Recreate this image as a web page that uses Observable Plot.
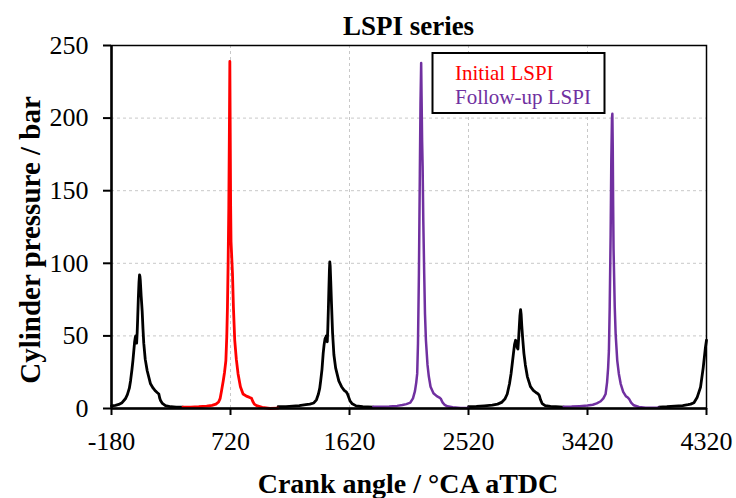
<!DOCTYPE html>
<html>
<head>
<meta charset="utf-8">
<script src="https://cdn.jsdelivr.net/npm/d3@7"></script>
<script src="https://cdn.jsdelivr.net/npm/@observablehq/plot@0.6"></script>
<style>
  html, body { margin: 0; padding: 0; background: #fff; }
  #chart { width: 736px; height: 498px; }
</style>
</head>
<body>
<div id="chart"></div>
<script>
// ---- Data (crank angle in °CA aTDC, pressure in bar) ----
const xTicks = [-180, 720, 1620, 2520, 3420, 4320];
const yTicks = [0, 50, 100, 150, 200, 250];

const black1Angle = [-180,-150,-125,-100,-75,-60,-45,-36,-25,-18,-11,-5,0,3,6,10,14,18,23,28,32,35,38,44,52,58,64,75,90,115,135,153,165,178,185,191,205,228,270,310,360];
const black1P     = [1.8,2.2,2.8,4,6.7,9.5,14,19,27,33,40,46,49,50,47,45,52,62,76,87,92,91,88,78,67,55,45,34,26,17,14,12,11,10,7,5.5,3.5,2,1.2,1,1];

const redAngle = [360,420,480,540,580,610,630,642,652,665,675,685,692,697,702,707,711,715,718,721,724,728,735,742,752,764,777,795,815,840,860,879,888,900,917,960,1018,1080];
const redP     = [1,1,1.2,1.6,2.2,3,4.5,7,12,19,25,33,50,70,100,138,185,239,190,140,115,107,93,70,47,34,24,15,10,8.5,7.8,7,5,3,2,0.8,0,0.3];

const black2Angle = [1080,1140,1190,1240,1290,1320,1350,1370,1385,1395,1402,1412,1421,1428,1435,1440,1444,1448,1452,1456,1460,1464,1468,1471,1474,1478,1484,1492,1502,1515,1539,1560,1580,1595,1605,1615,1625,1641,1670,1720,1800];
const black2P     = [1.2,1.3,1.6,2,2.6,3,3.8,6,10,14,19,27,38,44,48,49,50,47,46,55,68,82,95,101,98,88,72,52,37,28,19,15,12.5,11.5,10,7.5,5,3.2,1.8,1.2,1];

const purple1Angle = [1800,1860,1920,1980,2020,2050,2080,2100,2115,2125,2132,2138,2145,2152,2157,2162,2165,2169,2173,2178,2185,2191,2198,2210,2220,2233,2255,2280,2300,2310,2325,2340,2360,2400,2460,2520];
const purple1P     = [1.2,1.2,1.4,1.8,2.4,3,4,7,12,18,24,45,93,162,210,238,215,185,167,130,93,65,47,30,22,15,10.5,8.5,7.5,6.8,4,2.5,1.5,0.8,0.4,0.3];

const black3Angle = [2520,2580,2640,2700,2740,2770,2795,2813,2830,2842,2851,2860,2868,2876,2882,2888,2894,2899,2904,2909,2914,2918,2923,2930,2939,2950,2965,2989,3010,3030,3045,3055,3065,3077,3100,3140,3180,3240];
const black3P     = [1.2,1.4,1.8,2.3,3,4.2,6.5,10,17,24,31,38,44,47,46,42,41,48,56,64,68,65,57,48,38,30,22,15,12.5,11,10.2,9,6,3.4,2,1.4,1.2,1];

const purple2Angle = [3240,3300,3360,3420,3460,3490,3520,3540,3557,3568,3576,3582,3588,3595,3600,3605,3608,3611,3614,3617,3620,3626,3633,3645,3657,3671,3690,3710,3725,3734,3750,3770,3809,3860,3920,3960];
const purple2P     = [1.2,1.3,1.6,2,2.6,3.5,5,7,10,18,28,40,70,120,170,200,203,180,140,110,97,70,51,33,24,17,11.5,8.5,7.5,6.7,4,2.2,1,0.6,0.5,0.5];

const black4Angle = [3960,4020,4080,4140,4180,4200,4225,4250,4275,4295,4312,4320];
const black4P     = [1,1.2,1.6,2,2.6,3,4,7.8,14.7,28,42,47];

const seriesNames = ["Initial LSPI", "Follow-up LSPI"];
const seriesColors = ["#FF0000", "#7030A0"];

// ---- Build tables ----
function toRows(angles, pressures, cycle) {
  return angles.map((a, i) => ({angle: a, p: pressures[i], cycle}));
}
const blackRows = [
  ...toRows(black1Angle, black1P, "b1"),
  ...toRows(black2Angle, black2P, "b2"),
  ...toRows(black3Angle, black3P, "b3"),
  ...toRows(black4Angle, black4P, "b4")
];
const redRows = toRows(redAngle, redP, "r1");
const purpleRows = [
  ...toRows(purple1Angle, purple1P, "p1"),
  ...toRows(purple2Angle, purple2P, "p2")
];

const FONT = "'Liberation Serif', 'Times New Roman', serif";
const W = 736, H = 498;
const mL = 111, mR = 30, mT = 45, mB = 90;

const chart = Plot.plot({
  width: W,
  height: H,
  marginLeft: mL,
  marginRight: mR,
  marginTop: mT,
  marginBottom: mB,
  x: {domain: [-180, 4320]},
  y: {domain: [0, 250]},
  style: {fontFamily: FONT, fontSize: "26px", color: "black", background: "white", overflow: "visible"},
  marks: [
    Plot.gridX(xTicks.slice(1, -1), {stroke: "#c8c8c8", strokeOpacity: 1, strokeWidth: 1, strokeDasharray: "3,3"}),
    Plot.gridY(yTicks.slice(1, -1), {stroke: "#c8c8c8", strokeOpacity: 1, strokeWidth: 1, strokeDasharray: "3,3"}),
    Plot.line(blackRows, {x: "angle", y: "p", z: "cycle", stroke: "black", strokeWidth: 2.8, strokeLinejoin: "round"}),
    Plot.line(redRows, {x: "angle", y: "p", z: "cycle", stroke: seriesColors[0], strokeWidth: 2.8, strokeLinejoin: "round"}),
    Plot.line(purpleRows, {x: "angle", y: "p", z: "cycle", stroke: seriesColors[1], strokeWidth: 2.5, strokeLinejoin: "round"}),
    Plot.frame({stroke: "black", strokeWidth: 1.5}),
    Plot.ruleX([-180], {stroke: "black", strokeWidth: 2.5}),
    Plot.ruleY([0], {stroke: "black", strokeWidth: 2.5}),
    Plot.axisX({ticks: xTicks, tickSize: 7, tickPadding: 16, strokeWidth: 2, label: null, tickFormat: d => String(d), fontSize: 26}),
    Plot.axisY({ticks: yTicks, tickSize: 8, tickPadding: 15, strokeWidth: 2, label: null, tickFormat: d => String(d), fontSize: 26})
  ]
});

document.getElementById("chart").appendChild(chart);

// ---- Titles, axis labels, legend ----
const svg = d3.select(chart);
const cx = mL + (W - mL - mR) / 2;

svg.append("text")
  .attr("x", cx).attr("y", 35)
  .attr("text-anchor", "middle")
  .attr("font-family", FONT).attr("font-size", 27).attr("font-weight", "bold")
  .attr("fill", "black")
  .text("LSPI series");

svg.append("text")
  .attr("x", 408).attr("y", 493)
  .attr("text-anchor", "middle")
  .attr("font-family", FONT).attr("font-size", 28).attr("font-weight", "bold")
  .attr("fill", "black")
  .text("Crank angle / °CA aTDC");

svg.append("text")
  .attr("transform", "translate(40, 240) rotate(-90)")
  .attr("text-anchor", "middle")
  .attr("font-family", FONT).attr("font-size", 29).attr("font-weight", "bold")
  .attr("fill", "black")
  .text("Cylinder pressure / bar");

const lg = svg.append("g");
lg.append("rect")
  .attr("x", 432.5).attr("y", 53).attr("width", 172).attr("height", 60)
  .attr("fill", "white").attr("stroke", "black").attr("stroke-width", 2);
seriesNames.forEach((name, i) => {
  lg.append("text")
    .attr("x", 455).attr("y", 80 + i * 24)
    .attr("text-anchor", "start")
    .attr("font-family", FONT).attr("font-size", 21)
    .attr("fill", seriesColors[i])
    .text(name);
});
</script>
</body>
</html>
